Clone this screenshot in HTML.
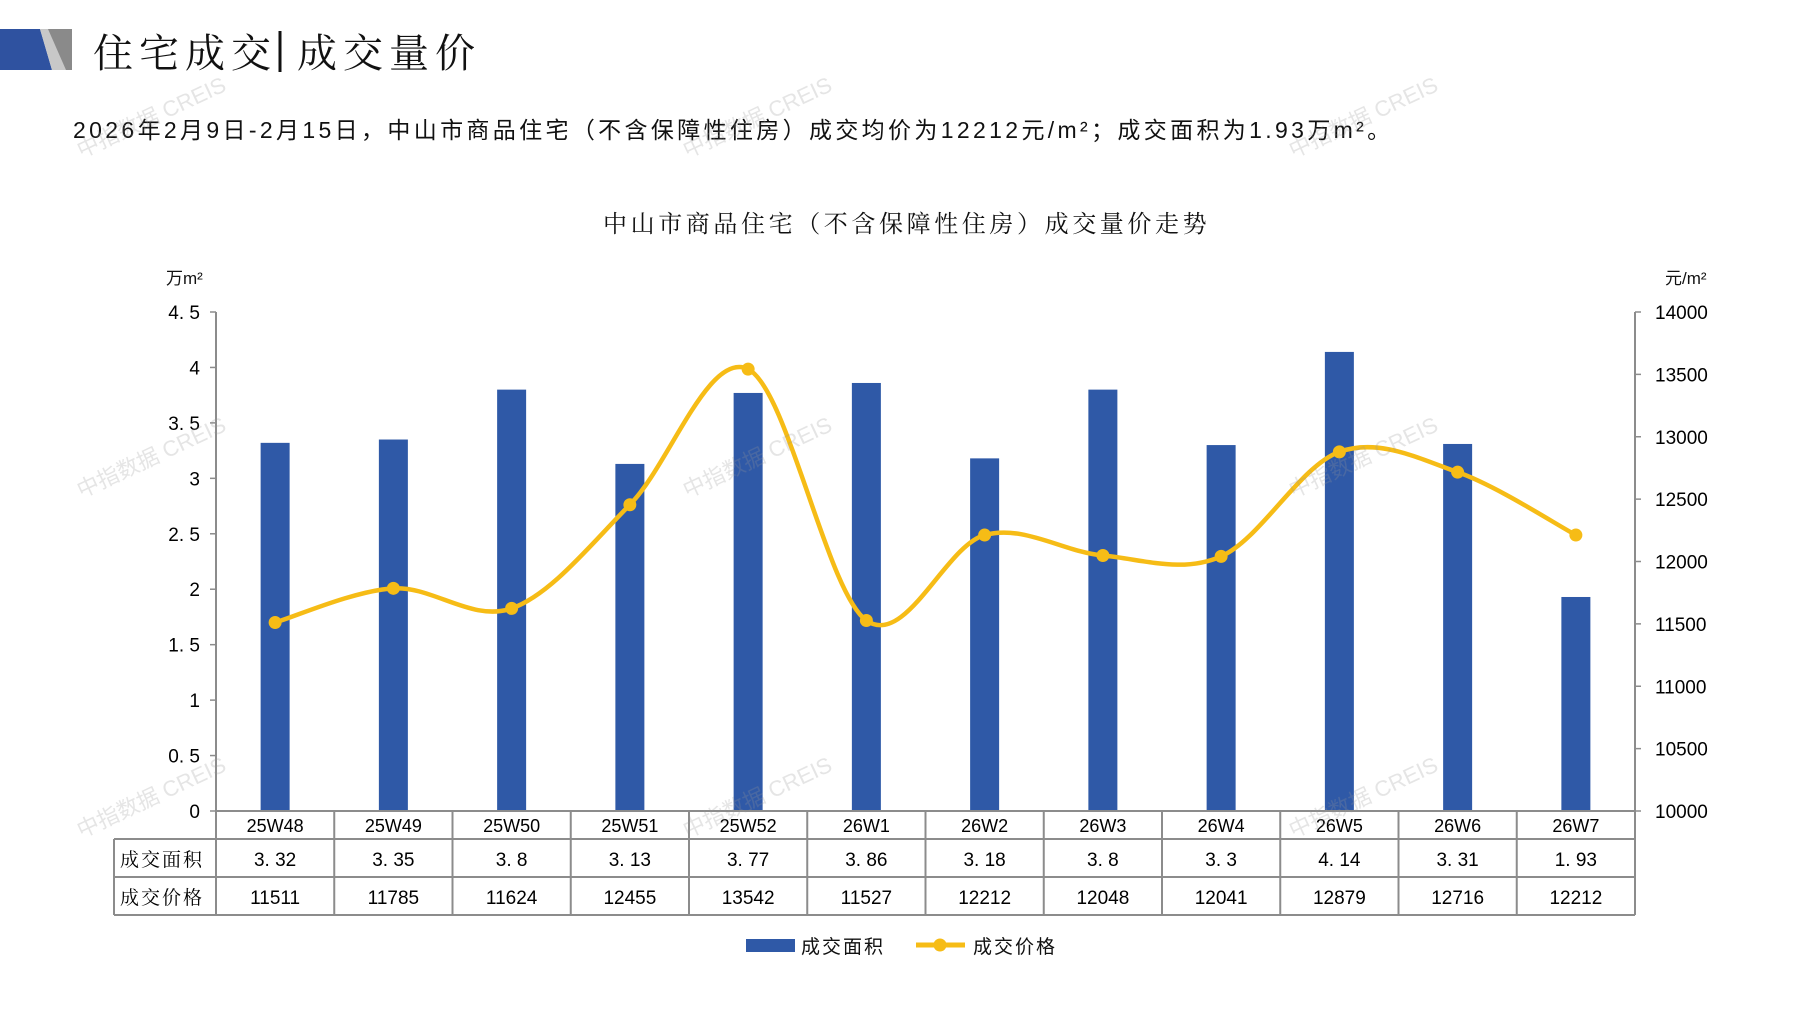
<!DOCTYPE html>
<html><head><meta charset="utf-8"><style>
body{margin:0;width:1797px;height:1010px;background:#fff;overflow:hidden;position:relative;font-family:"Liberation Sans","Noto Sans CJK SC",sans-serif;color:#111}
.a{position:absolute;white-space:nowrap}
</style></head><body>
<svg class="a" style="left:0;top:0" width="1797" height="1010">
<polygon points="0,29 40,29 52,70 0,70" fill="#2F52A0"/>
<polygon points="40,29 72,29 72,70 52,70" fill="#c8c8c8"/>
<polygon points="48,29 72,29 72,70 66,70" fill="#8a8a8a"/>
<line x1="280" y1="31" x2="280" y2="72" stroke="#111" stroke-width="3"/>
</svg>
<div class="a" style="left:93px;top:22px;font-size:40px;font-family:'Noto Serif CJK SC','Noto Sans CJK SC',serif;letter-spacing:6px">住宅成交<span style="display:inline-block;width:20px"></span>成交量价</div>
<div class="a" style="left:73px;top:111px;font-size:23px;font-family:'Liberation Sans','Noto Sans CJK SC',sans-serif;letter-spacing:3.35px">2026年2月9日-2月15日，中山市商品住宅（不含保障性住房）成交均价为12212元/m²；成交面积为1.93万m²。</div>
<div class="a" style="left:603px;top:204px;font-size:24px;letter-spacing:3.6px;font-family:'Noto Serif CJK SC','Noto Sans CJK SC',serif">中山市商品住宅（不含保障性住房）成交量价走势</div>
<div class="a" style="left:166px;top:264px;font-size:17px">万m²</div>
<div class="a" style="left:1665px;top:264px;font-size:17px">元/m²</div>
<svg id="c" class="a" style="left:0;top:0" width="1797" height="1010" font-family="Liberation Sans, Noto Sans CJK SC, sans-serif"></svg>
<div class="a" style="left:801px;top:932px;font-size:19px;letter-spacing:2px">成交面积</div>
<div class="a" style="left:973px;top:932px;font-size:19px;letter-spacing:2px">成交价格</div>
<div class="a" style="left:70px;top:100px;font-size:22px;color:rgba(150,150,150,0.25);transform:rotate(-25deg)">中指数据 CREIS</div>
<div class="a" style="left:676px;top:100px;font-size:22px;color:rgba(150,150,150,0.25);transform:rotate(-25deg)">中指数据 CREIS</div>
<div class="a" style="left:1282px;top:100px;font-size:22px;color:rgba(150,150,150,0.25);transform:rotate(-25deg)">中指数据 CREIS</div>
<div class="a" style="left:70px;top:440px;font-size:22px;color:rgba(150,150,150,0.25);transform:rotate(-25deg)">中指数据 CREIS</div>
<div class="a" style="left:676px;top:440px;font-size:22px;color:rgba(150,150,150,0.25);transform:rotate(-25deg)">中指数据 CREIS</div>
<div class="a" style="left:1282px;top:440px;font-size:22px;color:rgba(150,150,150,0.25);transform:rotate(-25deg)">中指数据 CREIS</div>
<div class="a" style="left:70px;top:780px;font-size:22px;color:rgba(150,150,150,0.25);transform:rotate(-25deg)">中指数据 CREIS</div>
<div class="a" style="left:676px;top:780px;font-size:22px;color:rgba(150,150,150,0.25);transform:rotate(-25deg)">中指数据 CREIS</div>
<div class="a" style="left:1282px;top:780px;font-size:22px;color:rgba(150,150,150,0.25);transform:rotate(-25deg)">中指数据 CREIS</div>
<script>
var s=document.getElementById('c'),h='';
var L=216,R=1635,T=312,B=811,cw=(R-L)/12;
var cats=['25W48','25W49','25W50','25W51','25W52','26W1','26W2','26W3','26W4','26W5','26W6','26W7'];
var area=[3.32,3.35,3.8,3.13,3.77,3.86,3.18,3.8,3.3,4.14,3.31,1.93];
var areaT=['3. 32','3. 35','3. 8','3. 13','3. 77','3. 86','3. 18','3. 8','3. 3','4. 14','3. 31','1. 93'];
var price=[11511,11785,11624,12455,13542,11527,12212,12048,12041,12879,12716,12212];
var g='#8c8c8c';
h+='<line x1="'+L+'" y1="'+T+'" x2="'+L+'" y2="'+B+'" stroke="'+g+'" stroke-width="2"/>';
h+='<line x1="'+R+'" y1="'+T+'" x2="'+R+'" y2="'+B+'" stroke="'+g+'" stroke-width="2"/>';
for(var i=0;i<=9;i++){var y=B-(B-T)*i/9;h+='<line x1="'+(L-6)+'" y1="'+y+'" x2="'+L+'" y2="'+y+'" stroke="'+g+'" stroke-width="1.5"/>';
var t=(i*0.5).toString().replace('.','. ');h+='<text x="200" y="'+(y+7)+'" font-size="19" text-anchor="end">'+t+'</text>';}
for(var i=0;i<=8;i++){var y=B-(B-T)*i/8;h+='<line x1="'+R+'" y1="'+y+'" x2="'+(R+6)+'" y2="'+y+'" stroke="'+g+'" stroke-width="1.5"/>';
h+='<text x="1655" y="'+(y+7)+'" font-size="19">'+(10000+500*i)+'</text>';}
for(var i=0;i<12;i++){var cx=L+cw*(i+.5),bh=area[i]/4.5*(B-T);
h+='<rect x="'+(cx-14.5)+'" y="'+(B-bh)+'" width="29" height="'+bh+'" fill="#2F59A7"/>';
h+='<text x="'+cx+'" y="'+(B+21)+'" font-size="18" text-anchor="middle">'+cats[i]+'</text>';
h+='<text x="'+cx+'" y="'+(B+55)+'" font-size="19" text-anchor="middle">'+areaT[i]+'</text>';
h+='<text x="'+cx+'" y="'+(B+93)+'" font-size="19" text-anchor="middle">'+price[i]+'</text>';}
h+='<line x1="'+L+'" y1="'+B+'" x2="'+R+'" y2="'+B+'" stroke="'+g+'" stroke-width="2"/>';
[839,877,915].forEach(function(y){h+='<line x1="114" y1="'+y+'" x2="'+R+'" y2="'+y+'" stroke="'+g+'" stroke-width="2"/>';});
h+='<line x1="114" y1="839" x2="114" y2="915" stroke="'+g+'" stroke-width="2"/>';
for(var i=0;i<=12;i++){var x=L+cw*i;h+='<line x1="'+x+'" y1="'+B+'" x2="'+x+'" y2="915" stroke="'+g+'" stroke-width="2"/>';}
h+='<text x="120" y="866" font-size="19" font-family="Noto Serif CJK SC, serif" letter-spacing="2">成交面积</text>';
h+='<text x="120" y="904" font-size="19" font-family="Noto Serif CJK SC, serif" letter-spacing="2">成交价格</text>';
var P=price.map(function(p,i){return [L+cw*(i+.5),B-(p-10000)/4000*(B-T)];});
var d='M'+P[0][0]+','+P[0][1];
for(var i=0;i<P.length-1;i++){var p0=P[Math.max(0,i-1)],p1=P[i],p2=P[i+1],p3=P[Math.min(P.length-1,i+2)],k=1/6;
d+=' C'+(p1[0]+(p2[0]-p0[0])*k)+','+(p1[1]+(p2[1]-p0[1])*k)+' '+(p2[0]-(p3[0]-p1[0])*k)+','+(p2[1]-(p3[1]-p1[1])*k)+' '+p2[0]+','+p2[1];}
h+='<path d="'+d+'" fill="none" stroke="#F6BC16" stroke-width="4.5"/>';
P.forEach(function(p){h+='<circle cx="'+p[0]+'" cy="'+p[1]+'" r="6.5" fill="#F6BC16"/>';});
h+='<rect x="746" y="939" width="49" height="13" fill="#2F59A7"/>';
h+='<line x1="916" y1="945" x2="965" y2="945" stroke="#F6BC16" stroke-width="5"/><circle cx="940" cy="945" r="6.5" fill="#F6BC16"/>';
s.innerHTML=h;
</script>
</body></html>
